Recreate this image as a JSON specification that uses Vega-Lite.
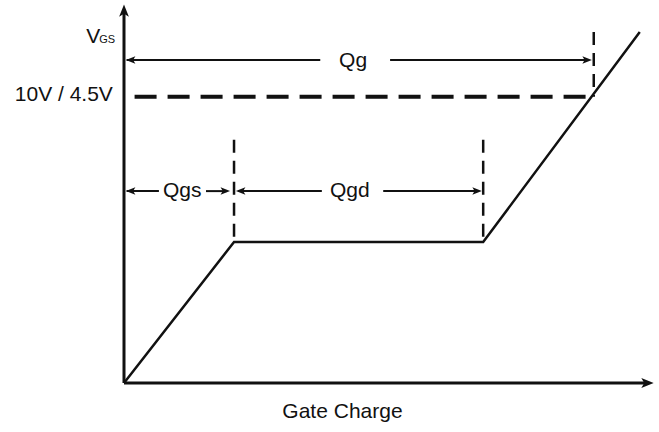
{
  "$schema": "https://vega.github.io/schema/vega-lite/v6.json",
  "autosize": {"type": "none"},
  "width": 529,
  "height": 377,
  "padding": {"left": 124, "top": 6, "right": 6, "bottom": 49},
  "background": "white",
  "config": {"view": {"stroke": null}, "text": {"font": "Liberation Sans", "color": "#111"}},
  "datasets": {
    "axes": [
      {"x": 0, "y": 0, "x2": 0, "y2": 98.7},
      {"x": 0, "y": 0, "x2": 98.9, "y2": 0}
    ],
    "axisHeads": [
      {"x": 0, "y": 98.7, "angle": 0},
      {"x": 98.9, "y": 0, "angle": 90}
    ],
    "curve": [
      {"q": 0, "v": 0},
      {"q": 20.8, "v": 37.4},
      {"q": 67.9, "v": 37.4},
      {"q": 97.5, "v": 93.1}
    ],
    "levelLine": [
      {"x": 2, "x2": 88.8, "y": 75.9, "y2": 75.9}
    ],
    "markers": [
      {"x": 20.8, "x2": 20.8, "y": 64.5, "y2": 37.4},
      {"x": 67.9, "x2": 67.9, "y": 64.5, "y2": 37.4},
      {"x": 88.8, "x2": 88.8, "y": 93.1, "y2": 75.9}
    ],
    "spans": [
      {"x": 0.5, "x2": 37.1, "y": 85.7, "y2": 85.7},
      {"x": 50.3, "x2": 87.8, "y": 85.7, "y2": 85.7},
      {"x": 0.5, "x2": 6.6, "y": 50.9, "y2": 50.9},
      {"x": 15.5, "x2": 19.4, "y": 50.9, "y2": 50.9},
      {"x": 21.6, "x2": 37.4, "y": 50.9, "y2": 50.9},
      {"x": 49.0, "x2": 67.1, "y": 50.9, "y2": 50.9}
    ],
    "spanHeads": [
      {"x": 1.3, "y": 85.7, "angle": 270},
      {"x": 87.5, "y": 85.7, "angle": 90},
      {"x": 1.3, "y": 50.9, "angle": 270},
      {"x": 19.1, "y": 50.9, "angle": 90},
      {"x": 22.1, "y": 50.9, "angle": 270},
      {"x": 66.7, "y": 50.9, "angle": 90}
    ],
    "centerLabels": [
      {"x": 43.3, "y": 85.4, "label": "Qg"},
      {"x": 11.0, "y": 50.9, "label": "Qgs"},
      {"x": 42.7, "y": 50.9, "label": "Qgd"},
      {"x": 41.3, "y": -7.7, "label": "Gate Charge"}
    ],
    "rightLabels": [
      {"x": -2.1, "y": 76.3, "label": "10V / 4.5V"}
    ],
    "vLabel": [
      {"x": -4.5, "y": 90.2, "label": "V"}
    ],
    "subLabel": [
      {"x": -4.7, "y": 90.2, "label": "GS"}
    ]
  },
  "layer": [
    {
      "data": {"name": "axes"},
      "mark": {"type": "rule", "strokeWidth": 3, "color": "#111"},
      "encoding": {
        "x": {"field": "x", "type": "quantitative", "scale": {"domain": [0, 100], "nice": false, "zero": false}, "axis": null},
        "x2": {"field": "x2"},
        "y": {"field": "y", "type": "quantitative", "scale": {"domain": [0, 100], "nice": false, "zero": false}, "axis": null},
        "y2": {"field": "y2"}
      }
    },
    {
      "data": {"name": "axisHeads"},
      "mark": {"type": "point", "shape": "M0,-1 L0.75,0.9 L0,0.45 L-0.75,0.9 Z", "filled": true, "size": 170, "color": "#111", "opacity": 1},
      "encoding": {
        "x": {"field": "x", "type": "quantitative"},
        "y": {"field": "y", "type": "quantitative"},
        "angle": {"field": "angle", "type": "quantitative", "scale": null}
      }
    },
    {
      "data": {"name": "curve"},
      "mark": {"type": "line", "strokeWidth": 2.5, "color": "#111"},
      "encoding": {
        "x": {"field": "q", "type": "quantitative"},
        "y": {"field": "v", "type": "quantitative"}
      }
    },
    {
      "data": {"name": "levelLine"},
      "mark": {"type": "rule", "strokeWidth": 4, "strokeDash": [22, 11], "color": "#111"},
      "encoding": {
        "x": {"field": "x", "type": "quantitative"},
        "x2": {"field": "x2"},
        "y": {"field": "y", "type": "quantitative"},
        "y2": {"field": "y2"}
      }
    },
    {
      "data": {"name": "markers"},
      "mark": {"type": "rule", "strokeWidth": 2.5, "strokeDash": [13, 8], "color": "#111"},
      "encoding": {
        "x": {"field": "x", "type": "quantitative"},
        "x2": {"field": "x2"},
        "y": {"field": "y", "type": "quantitative"},
        "y2": {"field": "y2"}
      }
    },
    {
      "data": {"name": "spans"},
      "mark": {"type": "rule", "strokeWidth": 2, "color": "#111"},
      "encoding": {
        "x": {"field": "x", "type": "quantitative"},
        "x2": {"field": "x2"},
        "y": {"field": "y", "type": "quantitative"},
        "y2": {"field": "y2"}
      }
    },
    {
      "data": {"name": "spanHeads"},
      "mark": {"type": "point", "shape": "M0,-1 L0.75,0.9 L0,0.45 L-0.75,0.9 Z", "filled": true, "size": 100, "color": "#111", "opacity": 1},
      "encoding": {
        "x": {"field": "x", "type": "quantitative"},
        "y": {"field": "y", "type": "quantitative"},
        "angle": {"field": "angle", "type": "quantitative", "scale": null}
      }
    },
    {
      "data": {"name": "centerLabels"},
      "mark": {"type": "text", "fontSize": 21, "align": "center", "baseline": "middle"},
      "encoding": {
        "x": {"field": "x", "type": "quantitative"},
        "y": {"field": "y", "type": "quantitative"},
        "text": {"field": "label"}
      }
    },
    {
      "data": {"name": "rightLabels"},
      "mark": {"type": "text", "fontSize": 21, "align": "right", "baseline": "middle"},
      "encoding": {
        "x": {"field": "x", "type": "quantitative"},
        "y": {"field": "y", "type": "quantitative"},
        "text": {"field": "label"}
      }
    },
    {
      "data": {"name": "vLabel"},
      "mark": {"type": "text", "fontSize": 21, "align": "right", "baseline": "alphabetic"},
      "encoding": {
        "x": {"field": "x", "type": "quantitative"},
        "y": {"field": "y", "type": "quantitative"},
        "text": {"field": "label"}
      }
    },
    {
      "data": {"name": "subLabel"},
      "mark": {"type": "text", "fontSize": 11, "align": "left", "baseline": "alphabetic"},
      "encoding": {
        "x": {"field": "x", "type": "quantitative"},
        "y": {"field": "y", "type": "quantitative"},
        "text": {"field": "label"}
      }
    }
  ]
}
